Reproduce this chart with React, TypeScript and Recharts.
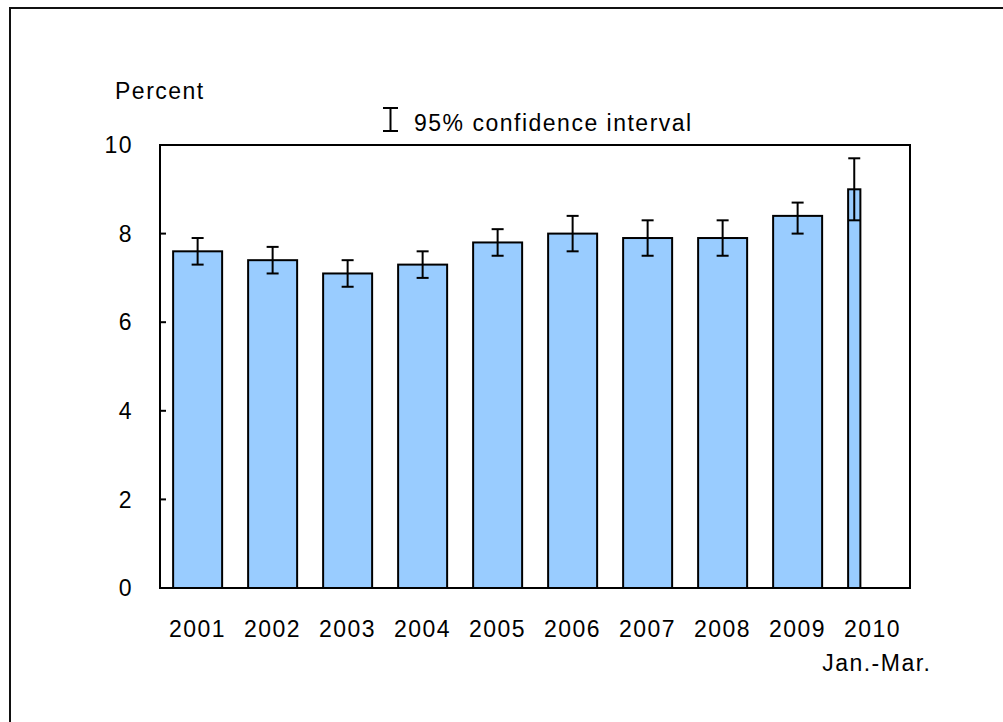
import React from "react";
import {
  ComposedChart,
  Bar,
  XAxis,
  YAxis,
  ReferenceArea,
} from "recharts";

// values (percent, with 95% confidence bounds)
const years = ["2001", "2002", "2003", "2004", "2005", "2006", "2007", "2008", "2009", "2010"];
const subLabels = ["", "", "", "", "", "", "", "", "", "Jan.-Mar."];
const values = [7.6, 7.4, 7.1, 7.3, 7.8, 8.0, 7.9, 7.9, 8.4, 9.0];
const lower = [7.3, 7.1, 6.8, 7.0, 7.5, 7.6, 7.5, 7.5, 8.0, 8.3];
const upper = [7.9, 7.7, 7.4, 7.6, 8.1, 8.4, 8.3, 8.3, 8.7, 9.7];
// share of the year the figure covers (2010 is one quarter)
const yearShare = [1, 1, 1, 1, 1, 1, 1, 1, 1, 0.25];
const yTicks = [0, 2, 4, 6, 8, 10];

const FONT = '"Liberation Sans", Arial, sans-serif';
const FS = 23;
const LS = 1.5;
const BAR_FILL = "#99ccff";

const data = years.map((year, i) => ({
  year,
  sub: subLabels[i],
  value: values[i],
  lower: lower[i],
  upper: upper[i],
  share: yearShare[i],
}));

// bar + its own error whisker, so the quarter bar can be narrower
function BarWithCI(props: any) {
  const { x, y, width, height, payload, value } = props;
  const w = width * payload.share;
  const base = y + height;
  const k = value ? height / value : 0;
  const cx = x + w / 2;
  const yLo = base - payload.lower * k;
  const yHi = base - payload.upper * k;
  const cap = 6;
  return (
    <g>
      <rect x={x} y={y} width={w} height={height} fill={BAR_FILL} stroke="#000" strokeWidth={2} />
      <line x1={cx} x2={cx} y1={yHi} y2={yLo} stroke="#000" strokeWidth={2} />
      <line x1={cx - cap} x2={cx + cap} y1={yHi} y2={yHi} stroke="#000" strokeWidth={2} />
      <line x1={cx - cap} x2={cx + cap} y1={yLo} y2={yLo} stroke="#000" strokeWidth={2} />
    </g>
  );
}

function YearTick(props: any) {
  const { x, y, payload, index } = props;
  const sub = subLabels[index];
  return (
    <g>
      <text x={x} y={y + 41} textAnchor="middle" fontSize={FS} letterSpacing={LS} fill="#000" fontFamily={FONT}>
        {payload.value}
      </text>
      {sub ? (
        <text x={x + 59} y={y + 75} textAnchor="end" fontSize={FS} letterSpacing={LS} fill="#000" fontFamily={FONT}>
          {sub}
        </text>
      ) : null}
    </g>
  );
}

export default function App() {
  return (
    <div style={{ position: "absolute", left: 0, top: 0, width: 1003, height: 722, background: "#fff", fontFamily: FONT }}>
      <div
        style={{
          position: "absolute",
          left: 9,
          top: 7,
          width: 1003,
          height: 722,
          borderLeft: "2px solid #111",
          borderTop: "2px solid #111",
        }}
      />
      <div style={{ position: "absolute", left: 0, top: 0 }}>
        <ComposedChart
          width={1003}
          height={722}
          data={data}
          margin={{ top: 145, right: 93, bottom: 74, left: 0 }}
          barCategoryGap="17.5%"
        >
          <ReferenceArea y1={0} y2={10} fill="none" stroke="#000" strokeWidth={2} ifOverflow="visible" />
          <XAxis
            dataKey="year"
            height={60}
            tickLine={false}
            axisLine={{ stroke: "#000", strokeWidth: 2 }}
            tick={<YearTick />}
            interval={0}
          />
          <YAxis
            domain={[0, 10]}
            ticks={yTicks}
            width={160}
            tickSize={-6}
            tickMargin={33}
            tickLine={{ stroke: "#000", strokeWidth: 2 }}
            axisLine={{ stroke: "#000", strokeWidth: 2 }}
            tick={{ fontSize: FS, fill: "#000", fontFamily: FONT, letterSpacing: LS }}
          />
          <Bar dataKey="value" shape={<BarWithCI />} isAnimationActive={false} />
        </ComposedChart>
      </div>
      <svg width={1003} height={722} style={{ position: "absolute", left: 0, top: 0, pointerEvents: "none" }}>
        <text x={115} y={99} fontSize={FS} letterSpacing={LS} fill="#000" fontFamily={FONT}>
          Percent
        </text>
        <g stroke="#000" strokeWidth={2}>
          <line x1={390.5} x2={390.5} y1={108} y2={131} />
          <line x1={383} x2={398} y1={108} y2={108} />
          <line x1={383} x2={398} y1={131} y2={131} />
        </g>
        <text x={414} y={131} fontSize={FS} letterSpacing={LS} fill="#000" fontFamily={FONT}>
          95% confidence interval
        </text>
      </svg>
    </div>
  );
}
